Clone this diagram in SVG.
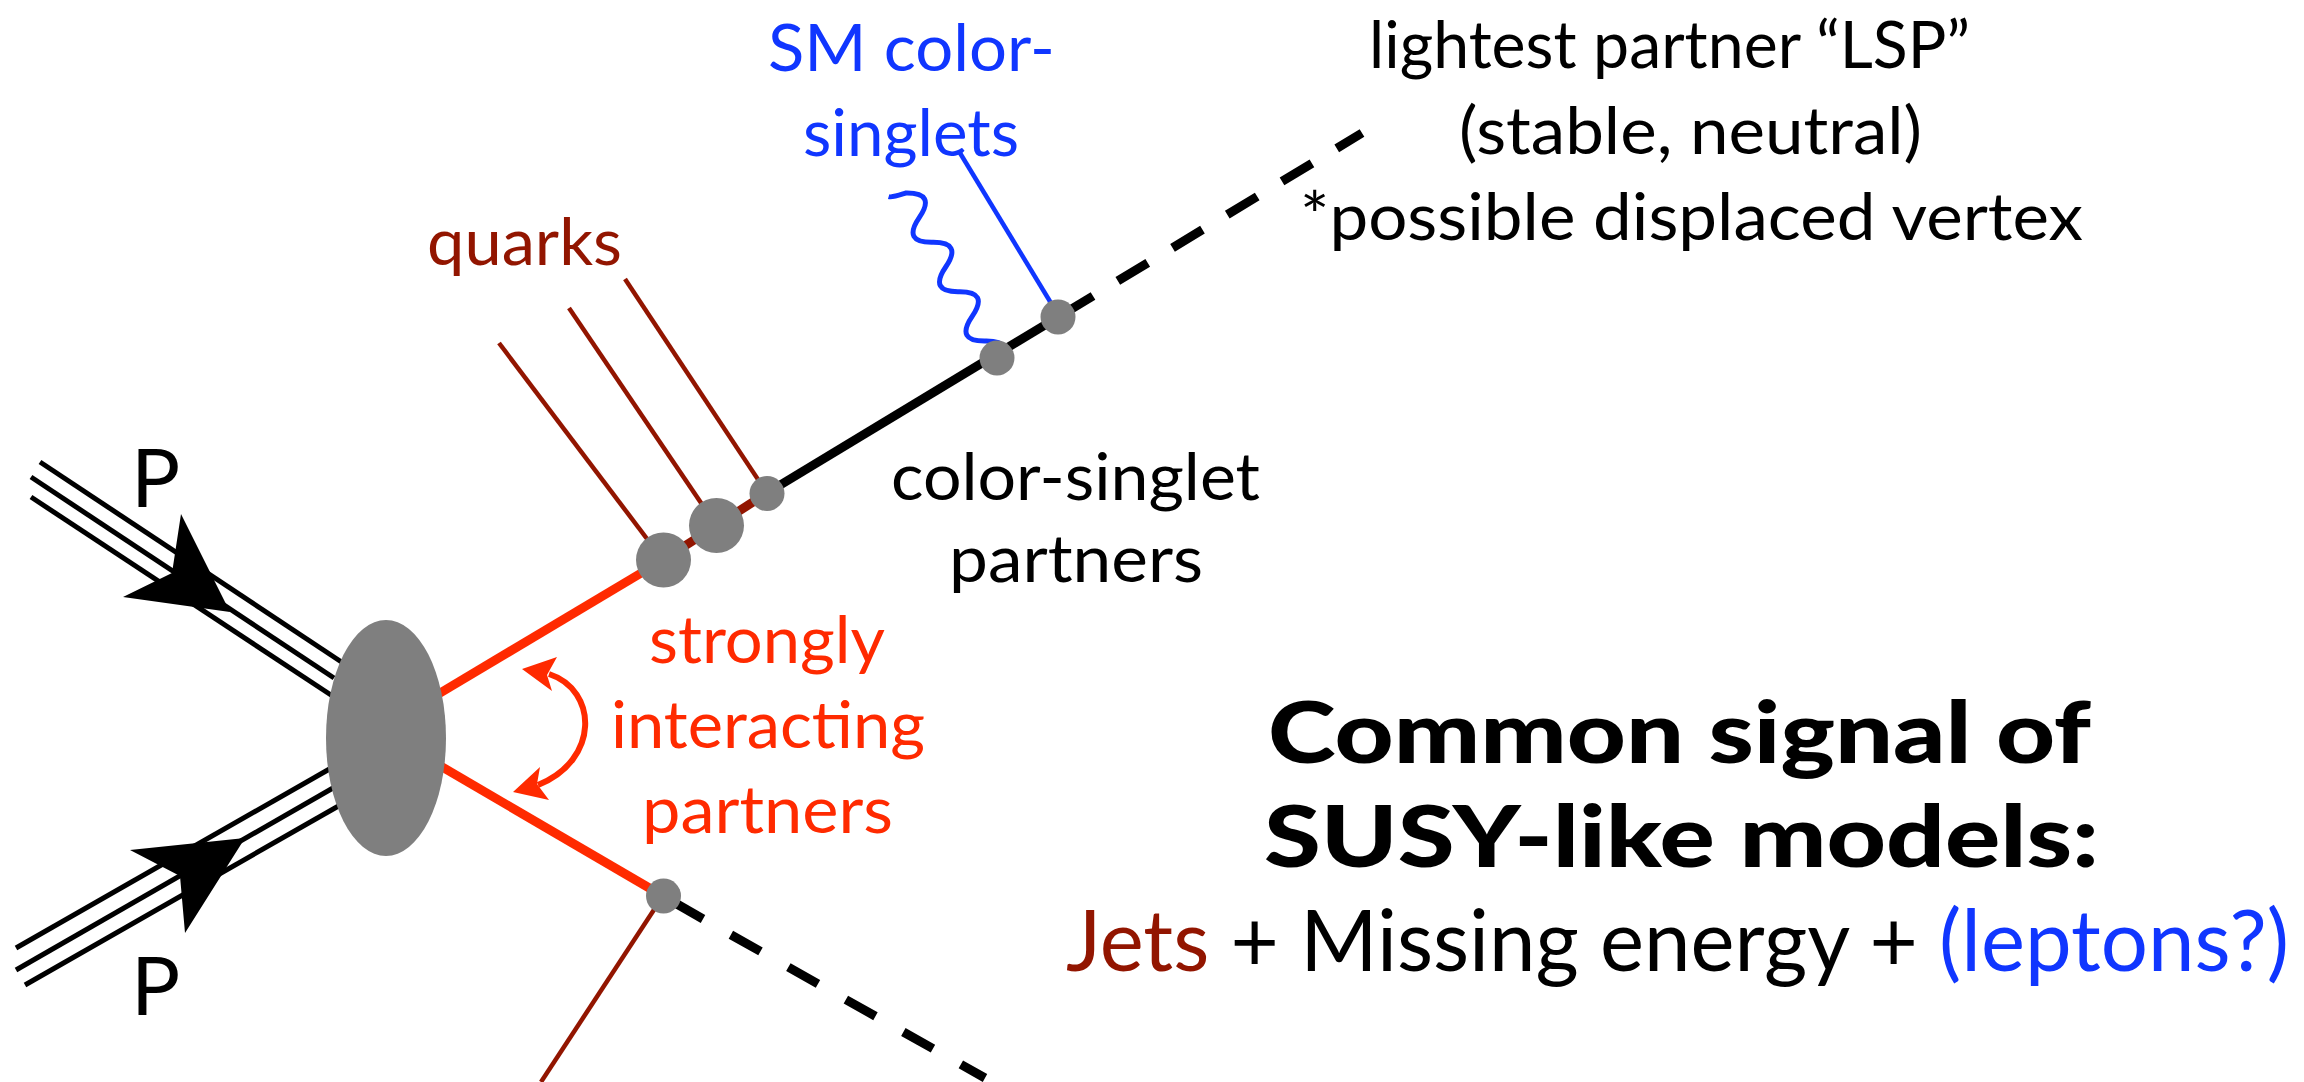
<svg xmlns="http://www.w3.org/2000/svg" width="2304" height="1082" viewBox="0 0 2304 1082">
  <style>
    text { font-family: Lato, "Liberation Sans", "DejaVu Sans", sans-serif; }
    .lbl { font-size: 66px; }
    .big { font-size: 86px; }
    .bold { font-weight: 900; }
    .k { fill: #000000; }
    .red { fill: #ff2a00; }
    .dred { fill: #921500; }
    .blue { fill: #1036ff; }
    .beam { stroke: #000; stroke-width: 5; fill: none; }
    .thick { stroke-width: 9; fill: none; stroke-linecap: butt; }
    .thin { stroke-width: 4.5; fill: none; }
    .blob { fill: #7f7f7f; }
  </style>

  <!-- all particle lines -->
  <g id="connectors">
    <!-- incoming proton beams (triple lines) -->
    <g id="beam-upper" class="beam">
      <line x1="40" y1="462" x2="343" y2="663"/>
      <line x1="31" y1="477" x2="334" y2="678"/>
      <line x1="31" y1="497" x2="334" y2="697"/>
    </g>
    <polygon id="arrow-upper" points="230,612 181,514 172,573 123,597" fill="#000"/>
    <g id="beam-lower" class="beam">
      <line x1="16" y1="948" x2="333" y2="767"/>
      <line x1="16" y1="970" x2="333" y2="788"/>
      <line x1="25" y1="985" x2="342" y2="804"/>
    </g>
    <polygon id="arrow-lower" points="245,838 130,850 180,876 185,933" fill="#000"/>

    <!-- strongly interacting partners -->
    <line x1="420" y1="705" x2="663" y2="560" stroke="#ff2a00" class="thick"/>
    <line x1="420" y1="754" x2="663" y2="896" stroke="#ff2a00" class="thick"/>

    <!-- upper decay chain -->
    <line x1="663" y1="560" x2="767" y2="493" stroke="#921500" class="thick"/>
    <line x1="767" y1="493" x2="1093" y2="296" stroke="#000" class="thick"/>
    <line x1="1093" y1="296" x2="1362" y2="133" stroke="#000" class="thick" stroke-dasharray="35 29" stroke-dashoffset="35"/>

    <!-- lower decay chain -->
    <line x1="663" y1="896" x2="703" y2="919" stroke="#000" class="thick"/>
    <line x1="703" y1="919" x2="985" y2="1078" stroke="#000" class="thick" stroke-dasharray="34 32" stroke-dashoffset="34"/>

    <!-- quark jets -->
    <g stroke="#921500" class="thin">
      <line x1="499" y1="343" x2="663" y2="560"/>
      <line x1="569" y1="308" x2="716" y2="525"/>
      <line x1="625" y1="279" x2="767" y2="493"/>
      <line x1="663" y1="896" x2="541" y2="1082"/>
    </g>

    <!-- SM colour singlets: gauge boson and lepton -->
    <path id="boson" transform="translate(906,193) rotate(61.8)" stroke="#1036ff" stroke-width="5" fill="none"
          d="M-5,17 C-2,14 -1,5 0,0 Q14,-27 28,0 T56,0 T84,0 T112,0 T140,0 T168,0 T196,0"/>
    <line id="lepton" x1="960" y1="153" x2="1054" y2="308" stroke="#1036ff" stroke-width="4.5"/>

    <!-- double arrow between the two partners -->
    <path d="M549,674 C598,690 600,760 538,785" stroke="#ff2a00" stroke-width="6" fill="none"/>
    <polygon points="522,669 557,657 547,675 552,691" fill="#ff2a00"/>
    <polygon points="513,792 540,767 537,784 549,800" fill="#ff2a00"/>
  </g>

  <!-- vertices -->
  <g id="hard-scatter"><ellipse cx="386" cy="738" rx="60" ry="118" class="blob"/></g>
  <g id="vertex-1"><circle cx="663.5" cy="560" r="27.5" class="blob"/></g>
  <g id="vertex-2"><circle cx="716.5" cy="525.5" r="27.5" class="blob"/></g>
  <g id="vertex-3"><circle cx="767" cy="493.5" r="17.5" class="blob"/></g>
  <g id="vertex-4"><circle cx="997" cy="358" r="17.5" class="blob"/></g>
  <g id="vertex-5"><circle cx="1058" cy="317" r="17.5" class="blob"/></g>
  <g id="vertex-6"><circle cx="663.5" cy="896" r="17.5" class="blob"/></g>

  <!-- labels -->
  <g id="labels">
    <text x="131" y="507" font-size="82" class="k">P</text>
    <text x="131" y="1015" font-size="82" class="k">P</text>

    <text x="427" y="265" class="lbl dred" textLength="195" lengthAdjust="spacingAndGlyphs">quarks</text>

    <text x="768" y="71" class="lbl blue" textLength="287" lengthAdjust="spacingAndGlyphs">SM color-</text>
    <text x="803" y="156" class="lbl blue" textLength="216" lengthAdjust="spacingAndGlyphs">singlets</text>

    <text x="1369" y="68" class="lbl k" textLength="601" lengthAdjust="spacingAndGlyphs">lightest partner “LSP”</text>
    <text x="1459" y="154" class="lbl k" textLength="463" lengthAdjust="spacingAndGlyphs">(stable, neutral)</text>
    <text x="1300" y="240" class="lbl k" textLength="783" lengthAdjust="spacingAndGlyphs">*possible displaced vertex</text>

    <text x="891" y="500" class="lbl k" textLength="369" lengthAdjust="spacingAndGlyphs">color-singlet</text>
    <text x="949" y="582" class="lbl k" textLength="254" lengthAdjust="spacingAndGlyphs">partners</text>

    <text x="649" y="663" class="lbl red" textLength="236" lengthAdjust="spacingAndGlyphs">strongly</text>
    <text x="611" y="748" class="lbl red" textLength="314" lengthAdjust="spacingAndGlyphs">interacting</text>
    <text x="642" y="833" class="lbl red" textLength="251" lengthAdjust="spacingAndGlyphs">partners</text>

    <text x="1268" y="763" class="big bold k" textLength="823" lengthAdjust="spacingAndGlyphs">Common signal of</text>
    <text x="1264" y="867" class="big bold k" textLength="835" lengthAdjust="spacingAndGlyphs">SUSY-like models:</text>

    <text x="1066" y="971" class="big k" textLength="1223" lengthAdjust="spacingAndGlyphs"><tspan class="dred">Jets</tspan> + Missing energy + <tspan class="blue">(leptons?)</tspan></text>
  </g>
</svg>
